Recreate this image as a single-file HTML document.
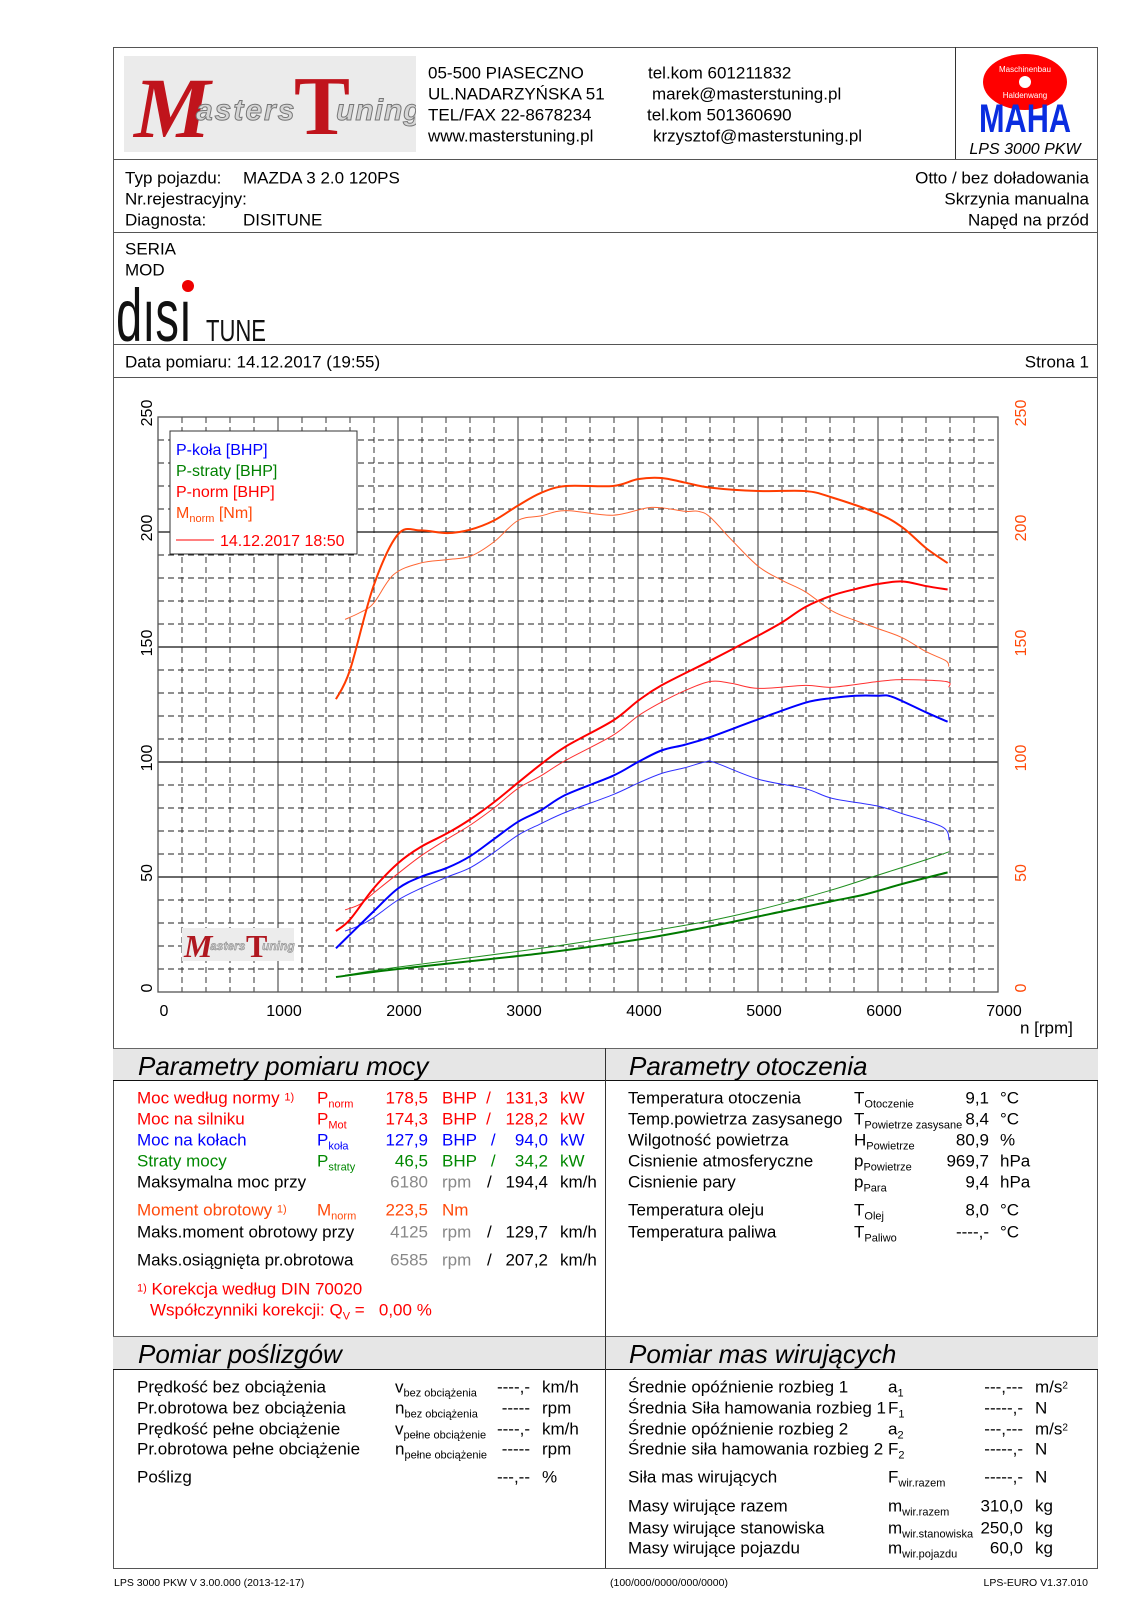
<!DOCTYPE html>
<html><head><meta charset="utf-8">
<style>
*{margin:0;padding:0;box-sizing:border-box}
body{width:1131px;height:1600px;background:#fff;position:relative;overflow:hidden;font-family:"Liberation Sans",Arial,sans-serif;color:#000}
.t{position:absolute;white-space:nowrap;line-height:1;transform:translateY(-50%);font-size:17px}
.r{text-align:right}
.h{position:absolute;height:1px;background:#555}
.v{position:absolute;width:1px;background:#333}
.band{position:absolute;background:#e6e6e6;border-top:1px solid #666;border-bottom:1.5px solid #111}
.bt{position:absolute;font-style:italic;font-size:26px;line-height:1;transform:translateY(-50%);white-space:nowrap}
sub{font-size:11px;vertical-align:-4px;line-height:0}
.red{color:#f00}.blue{color:#00f}.grn{color:#080}.org{color:#ff4a0a}.gr{color:#888}
</style></head><body>
<div style="position:absolute;left:113px;top:47px;width:985px;height:1522px;border:1.5px solid #555"></div>

<!-- header -->
<div style="position:absolute;left:124px;top:56px;width:292px;height:96px;background:#ebebeb;overflow:hidden">
  <span style="position:absolute;left:10px;top:2px;font:italic bold 86px 'Liberation Serif',serif;color:#c0141c">M</span>
  <span style="position:absolute;left:72px;top:38px;font:italic bold 30px 'Liberation Sans',sans-serif;color:#d6d6d6;-webkit-text-stroke:1px #777;letter-spacing:2px">asters</span>
  <span style="position:absolute;left:170px;top:2px;font:bold 84px 'Liberation Serif',serif;color:#c0141c">T</span>
  <span style="position:absolute;left:212px;top:38px;font:italic bold 30px 'Liberation Sans',sans-serif;color:#d6d6d6;-webkit-text-stroke:1px #777;letter-spacing:1px">uning</span>
</div>
<div class="t" style="left:428px;top:73px">05-500 PIASECZNO</div>
<div class="t" style="left:428px;top:94px">UL.NADARZYŃSKA 51</div>
<div class="t" style="left:428px;top:115px">TEL/FAX 22-8678234</div>
<div class="t" style="left:428px;top:136px">www.masterstuning.pl</div>
<div class="t" style="left:648px;top:73px">tel.kom 601211832</div>
<div class="t" style="left:652px;top:94px">marek@masterstuning.pl</div>
<div class="t" style="left:647px;top:115px">tel.kom 501360690</div>
<div class="t" style="left:653px;top:136px">krzysztof@masterstuning.pl</div>
<div class="v" style="left:955px;top:47px;height:112px"></div>
<svg style="position:absolute;left:960px;top:52px" width="135" height="110">
  <ellipse cx="65" cy="30" rx="42" ry="28" fill="#f00"/>
  <text x="65" y="20" font-size="8" fill="#fff" text-anchor="middle" font-family="Liberation Sans">Maschinenbau</text>
  <circle cx="65" cy="30" r="6" fill="#fff"/>
  <text x="65" y="46" font-size="8" fill="#fff" text-anchor="middle" font-family="Liberation Sans">Haldenwang</text>
  <text x="65" y="80" font-size="40" font-weight="bold" fill="#0a2de0" text-anchor="middle" font-family="Liberation Sans" textLength="92" lengthAdjust="spacingAndGlyphs">MAHA</text>
  <text x="65" y="102" font-size="16" font-style="italic" fill="#000" text-anchor="middle" font-family="Liberation Sans">LPS 3000 PKW</text>
</svg>
<div class="h" style="left:113px;top:159px;width:985px"></div>

<div class="t" style="left:125px;top:178px">Typ pojazdu:</div>
<div class="t" style="left:243px;top:178px">MAZDA 3 2.0 120PS</div>
<div class="t" style="left:125px;top:199px">Nr.rejestracyjny:</div>
<div class="t" style="left:125px;top:220px">Diagnosta:</div>
<div class="t" style="left:243px;top:220px">DISITUNE</div>
<div class="t r" style="right:42px;top:178px">Otto / bez doładowania</div>
<div class="t r" style="right:42px;top:199px">Skrzynia manualna</div>
<div class="t r" style="right:42px;top:220px">Napęd na przód</div>
<div class="h" style="left:113px;top:232px;width:985px"></div>

<div class="t" style="left:125px;top:249px">SERIA</div>
<div class="t" style="left:125px;top:270px">MOD</div>
<svg style="position:absolute;left:114px;top:278px" width="160" height="66">
  <text x="2" y="63" font-size="74" font-family="Liberation Sans" textLength="76" lengthAdjust="spacingAndGlyphs" fill="#111">dısı</text>
  <circle cx="74" cy="8" r="6" fill="#e00"/>
  <text x="92" y="63" font-size="31" font-family="Liberation Sans" textLength="60" lengthAdjust="spacingAndGlyphs" fill="#111">TUNE</text>
</svg>
<div class="h" style="left:113px;top:344px;width:985px"></div>
<div class="t" style="left:125px;top:362px">Data pomiaru: 14.12.2017 (19:55)</div>
<div class="t r" style="right:42px;top:362px">Strona 1</div>
<div class="h" style="left:113px;top:377px;width:985px"></div>

<!-- chart -->
<svg id="chart" style="position:absolute;left:0;top:0" width="1131" height="1048"></svg>

<div class="t" style="left:1020px;top:1028px">n [rpm]</div>

<!-- section 1 -->
<div class="band" style="left:113px;top:1048px;width:985px;height:33px"></div>
<div class="v" style="left:605px;top:1048px;height:520px"></div>
<div class="bt" style="left:138px;top:1066px">Parametry pomiaru mocy</div>
<div class="bt" style="left:629px;top:1066px">Parametry otoczenia</div>

<div class="t red" style="left:137px;top:1098px">Moc według normy <span style="font-size:11px;vertical-align:3px">1)</span></div>
<div class="t red" style="left:317px;top:1098px">P<sub>norm</sub></div>
<div class="t red r" style="right:703px;top:1098px">178,5</div>
<div class="t red" style="left:442px;top:1098px">BHP &nbsp;/</div>
<div class="t red r" style="right:583px;top:1098px">131,3</div>
<div class="t red" style="left:560px;top:1098px">kW</div>

<div class="t red" style="left:137px;top:1119px">Moc na silniku</div>
<div class="t red" style="left:317px;top:1119px">P<sub>Mot</sub></div>
<div class="t red r" style="right:703px;top:1119px">174,3</div>
<div class="t red" style="left:442px;top:1119px">BHP &nbsp;/</div>
<div class="t red r" style="right:583px;top:1119px">128,2</div>
<div class="t red" style="left:560px;top:1119px">kW</div>

<div class="t blue" style="left:137px;top:1140px">Moc na kołach</div>
<div class="t blue" style="left:317px;top:1140px">P<sub>koła</sub></div>
<div class="t blue r" style="right:703px;top:1140px">127,9</div>
<div class="t blue" style="left:442px;top:1140px">BHP &nbsp;&nbsp;/</div>
<div class="t blue r" style="right:583px;top:1140px">94,0</div>
<div class="t blue" style="left:560px;top:1140px">kW</div>

<div class="t grn" style="left:137px;top:1161px">Straty mocy</div>
<div class="t grn" style="left:317px;top:1161px">P<sub>straty</sub></div>
<div class="t grn r" style="right:703px;top:1161px">46,5</div>
<div class="t grn" style="left:442px;top:1161px">BHP &nbsp;&nbsp;/</div>
<div class="t grn r" style="right:583px;top:1161px">34,2</div>
<div class="t grn" style="left:560px;top:1161px">kW</div>

<div class="t" style="left:137px;top:1182px">Maksymalna moc przy</div>
<div class="t gr r" style="right:703px;top:1182px">6180</div>
<div class="t gr" style="left:442px;top:1182px">rpm</div>
<div class="t" style="left:487px;top:1182px">/</div>
<div class="t r" style="right:583px;top:1182px">194,4</div>
<div class="t" style="left:560px;top:1182px">km/h</div>

<div class="t org" style="left:137px;top:1210px">Moment obrotowy <span style="font-size:11px;vertical-align:3px">1)</span></div>
<div class="t org" style="left:317px;top:1210px">M<sub>norm</sub></div>
<div class="t org r" style="right:703px;top:1210px">223,5</div>
<div class="t org" style="left:442px;top:1210px">Nm</div>

<div class="t" style="left:137px;top:1232px">Maks.moment obrotowy przy</div>
<div class="t gr r" style="right:703px;top:1232px">4125</div>
<div class="t gr" style="left:442px;top:1232px">rpm</div>
<div class="t" style="left:487px;top:1232px">/</div>
<div class="t r" style="right:583px;top:1232px">129,7</div>
<div class="t" style="left:560px;top:1232px">km/h</div>

<div class="t" style="left:137px;top:1260px">Maks.osiągnięta pr.obrotowa</div>
<div class="t gr r" style="right:703px;top:1260px">6585</div>
<div class="t gr" style="left:442px;top:1260px">rpm</div>
<div class="t" style="left:487px;top:1260px">/</div>
<div class="t r" style="right:583px;top:1260px">207,2</div>
<div class="t" style="left:560px;top:1260px">km/h</div>

<div class="t red" style="left:137px;top:1289px"><span style="font-size:11px;vertical-align:3px">1)</span> Korekcja według DIN 70020</div>
<div class="t red" style="left:150px;top:1310px">Współczynniki korekcji: Q<sub>V</sub> = &nbsp;&nbsp;0,00 %</div>

<!-- ambient -->
<div class="t" style="left:628px;top:1098px">Temperatura otoczenia</div>
<div class="t" style="left:854px;top:1098px">T<sub>Otoczenie</sub></div>
<div class="t r" style="right:142px;top:1098px">9,1</div>
<div class="t" style="left:1000px;top:1098px">°C</div>
<div class="t" style="left:628px;top:1119px">Temp.powietrza zasysanego</div>
<div class="t" style="left:854px;top:1119px">T<sub>Powietrze zasysane</sub></div>
<div class="t r" style="right:142px;top:1119px">8,4</div>
<div class="t" style="left:1000px;top:1119px">°C</div>
<div class="t" style="left:628px;top:1140px">Wilgotność powietrza</div>
<div class="t" style="left:854px;top:1140px">H<sub>Powietrze</sub></div>
<div class="t r" style="right:142px;top:1140px">80,9</div>
<div class="t" style="left:1000px;top:1140px">%</div>
<div class="t" style="left:628px;top:1161px">Cisnienie atmosferyczne</div>
<div class="t" style="left:854px;top:1161px">p<sub>Powietrze</sub></div>
<div class="t r" style="right:142px;top:1161px">969,7</div>
<div class="t" style="left:1000px;top:1161px">hPa</div>
<div class="t" style="left:628px;top:1182px">Cisnienie pary</div>
<div class="t" style="left:854px;top:1182px">p<sub>Para</sub></div>
<div class="t r" style="right:142px;top:1182px">9,4</div>
<div class="t" style="left:1000px;top:1182px">hPa</div>
<div class="t" style="left:628px;top:1210px">Temperatura oleju</div>
<div class="t" style="left:854px;top:1210px">T<sub>Olej</sub></div>
<div class="t r" style="right:142px;top:1210px">8,0</div>
<div class="t" style="left:1000px;top:1210px">°C</div>
<div class="t" style="left:628px;top:1232px">Temperatura paliwa</div>
<div class="t" style="left:854px;top:1232px">T<sub>Paliwo</sub></div>
<div class="t r" style="right:142px;top:1232px">----,-</div>
<div class="t" style="left:1000px;top:1232px">°C</div>

<!-- section 2 -->
<div class="band" style="left:113px;top:1336px;width:985px;height:34px"></div>
<div class="v" style="left:605px;top:1336px;height:232px"></div>
<div class="bt" style="left:138px;top:1354px">Pomiar poślizgów</div>
<div class="bt" style="left:629px;top:1354px">Pomiar mas wirujących</div>

<div class="t" style="left:137px;top:1387px">Prędkość bez obciążenia</div>
<div class="t" style="left:395px;top:1387px">v<sub>bez obciążenia</sub></div>
<div class="t r" style="right:601px;top:1387px">----,-</div>
<div class="t" style="left:542px;top:1387px">km/h</div>
<div class="t" style="left:137px;top:1408px">Pr.obrotowa bez obciążenia</div>
<div class="t" style="left:395px;top:1408px">n<sub>bez obciążenia</sub></div>
<div class="t r" style="right:601px;top:1408px">-----</div>
<div class="t" style="left:542px;top:1408px">rpm</div>
<div class="t" style="left:137px;top:1429px">Prędkość pełne obciążenie</div>
<div class="t" style="left:395px;top:1429px">v<sub>pełne obciążenie</sub></div>
<div class="t r" style="right:601px;top:1429px">----,-</div>
<div class="t" style="left:542px;top:1429px">km/h</div>
<div class="t" style="left:137px;top:1449px">Pr.obrotowa pełne obciążenie</div>
<div class="t" style="left:395px;top:1449px">n<sub>pełne obciążenie</sub></div>
<div class="t r" style="right:601px;top:1449px">-----</div>
<div class="t" style="left:542px;top:1449px">rpm</div>
<div class="t" style="left:137px;top:1477px">Poślizg</div>
<div class="t r" style="right:601px;top:1477px">---,--</div>
<div class="t" style="left:542px;top:1477px">%</div>

<div class="t" style="left:628px;top:1387px">Średnie opóźnienie rozbieg 1</div>
<div class="t" style="left:888px;top:1387px">a<sub>1</sub></div>
<div class="t r" style="right:108px;top:1387px">---,---</div>
<div class="t" style="left:1035px;top:1387px">m/s<span style="font-size:10px;vertical-align:4px">2</span></div>
<div class="t" style="left:628px;top:1408px">Średnia Siła hamowania rozbieg 1</div>
<div class="t" style="left:888px;top:1408px">F<sub>1</sub></div>
<div class="t r" style="right:108px;top:1408px">-----,-</div>
<div class="t" style="left:1035px;top:1408px">N</div>
<div class="t" style="left:628px;top:1429px">Średnie opóźnienie rozbieg 2</div>
<div class="t" style="left:888px;top:1429px">a<sub>2</sub></div>
<div class="t r" style="right:108px;top:1429px">---,---</div>
<div class="t" style="left:1035px;top:1429px">m/s<span style="font-size:10px;vertical-align:4px">2</span></div>
<div class="t" style="left:628px;top:1449px">Średnie siła hamowania rozbieg 2</div>
<div class="t" style="left:888px;top:1449px">F<sub>2</sub></div>
<div class="t r" style="right:108px;top:1449px">-----,-</div>
<div class="t" style="left:1035px;top:1449px">N</div>
<div class="t" style="left:628px;top:1477px">Siła mas wirujących</div>
<div class="t" style="left:888px;top:1477px">F<sub>wir.razem</sub></div>
<div class="t r" style="right:108px;top:1477px">-----,-</div>
<div class="t" style="left:1035px;top:1477px">N</div>
<div class="t" style="left:628px;top:1506px">Masy wirujące razem</div>
<div class="t" style="left:888px;top:1506px">m<sub>wir.razem</sub></div>
<div class="t r" style="right:108px;top:1506px">310,0</div>
<div class="t" style="left:1035px;top:1506px">kg</div>
<div class="t" style="left:628px;top:1528px">Masy wirujące stanowiska</div>
<div class="t" style="left:888px;top:1528px">m<sub>wir.stanowiska</sub></div>
<div class="t r" style="right:108px;top:1528px">250,0</div>
<div class="t" style="left:1035px;top:1528px">kg</div>
<div class="t" style="left:628px;top:1548px">Masy wirujące pojazdu</div>
<div class="t" style="left:888px;top:1548px">m<sub>wir.pojazdu</sub></div>
<div class="t r" style="right:108px;top:1548px">60,0</div>
<div class="t" style="left:1035px;top:1548px">kg</div>

<div class="t" style="left:114px;top:1583px;font-size:10.5px">LPS 3000 PKW V 3.00.000 (2013-12-17)</div>
<div class="t" style="left:610px;top:1583px;font-size:10.5px">(100/000/0000/000/0000)</div>
<div class="t r" style="right:43px;top:1583px;font-size:10.5px">LPS-EURO V1.37.010</div>

<script>
const NS='http://www.w3.org/2000/svg';
const xTicks=[0,1000,2000,3000,4000,5000,6000,7000];
const yTicks=[0,50,100,150,200,250];
const mThickRpm=[1483,1600,1796,2000,2187,2410,2600,2800,3000,3191,3400,3791,4000,4195,4390,4600,5004,5395,5618,6000,6204,6400,6580];
const mThickVal=[127.3,140,176.5,199,200.7,199.5,201,205,211.5,217,220,220,223,223.5,221.5,219.3,217.8,217.8,215,208,202,193,186.5];
const mThinRpm=[1559,1684,1796,1964,2187,2410,2606,2800,3000,3191,3400,3791,4112,4390,4502,4600,4781,5004,5200,5395,5618,5813,6000,6204,6400,6566,6590];
const mThinVal=[162,165,169,181.5,186.5,188,189.5,195.7,205,207,209.3,207.3,210.7,209,209,206.5,196.5,185,179,174,165.7,161.5,158,154,148,144,141.5];
const pnThickRpm=[1483,1600,1796,2000,2187,2410,2600,2800,3000,3191,3400,3791,4000,4195,4600,5004,5200,5395,5618,5813,6000,6204,6400,6580];
const pnThickVal=[26.5,31.5,45,56,63,69,75,82.5,91,99,106.8,118,126.6,133.3,144,155,160.7,167.4,172.4,175.2,177.4,178.5,176.5,175];
const pnThinRpm=[1559,1684,1796,2000,2187,2410,2600,2800,3000,3191,3400,3791,4000,4195,4390,4600,4781,5004,5395,5618,6000,6204,6566,6590];
const pnThinVal=[35.7,38.2,43,51.5,59,66.5,72.5,80,88.5,94,100.8,111.6,120,126,131,135,134.2,132,133.3,132.5,135,135.8,135,132.5];
const pkThickRpm=[1483,1600,1796,2000,2187,2410,2600,2800,3000,3191,3400,3791,4000,4195,4390,4600,5004,5395,5618,5813,6000,6120,6400,6580];
const pkThickVal=[19,25,35,45,50,54,59,66.5,74,79,85.8,94,100,105,107.5,110.8,118.6,125.8,127.8,128.8,128.8,128.3,121.6,117.5];
const pkThinRpm=[1559,1684,1796,2000,2187,2410,2600,2800,3000,3191,3400,3791,4000,4195,4390,4558,4642,5004,5395,5618,6000,6204,6538,6594];
const pkThinVal=[26.5,29,32.3,40,45,50,54,60.7,68.2,73.2,78.2,85.8,90.8,95,97.5,100,99.7,92.5,88.4,84.2,80.8,77.5,71.7,66];
const psThickRpm=[1483,2000,3191,4000,4600,5200,5618,5897,6204,6580];
const psThickVal=[6.5,10,16.8,22.8,28.5,35,39.5,42.5,47,52];
const psThinRpm=[1559,2000,3191,4000,4600,5004,5590,6000,6400,6594];
const psThinVal=[7.3,10.8,19,25.6,31,35.7,44,50.8,57.5,61];

const L=158,R=998,T=417,B=992,XMAX=7000,YMAX=250;
const X=r=>L+(R-L)*r/XMAX;
const Y=v=>B-(B-T)*v/YMAX;
const svg=document.getElementById('chart');
function mk(tag,attrs,parent){const e=document.createElementNS(NS,tag);for(const k in attrs)e.setAttribute(k,attrs[k]);(parent||svg).appendChild(e);return e;}

const grid=mk('g',{});


for(let r=200;r<XMAX;r+=200){
  const solid=r%1000===0;
  mk('line',{x1:X(r),x2:X(r),y1:T,y2:B,stroke:solid?'#555':'#222','stroke-width':solid?1.2:0.9,'stroke-dasharray':solid?'':'6 4'},grid);
}
for(let v=10;v<YMAX;v+=10){
  const solid=v%50===0;
  mk('line',{x1:L,x2:R,y1:Y(v),y2:Y(v),stroke:solid?'#111':'#222','stroke-width':solid?1.2:0.9,'stroke-dasharray':solid?'':'6 4'},grid);
}
mk('rect',{x:L,y:T,width:R-L,height:B-T,fill:'none',stroke:'#555','stroke-width':1.3},grid);

xTicks.forEach(t=>{
  const e=mk('text',{x:X(t)+6,y:1016,'font-size':16,'text-anchor':'middle','font-family':'Liberation Sans'});
  e.textContent=t;
  
  
});
yTicks.forEach(t=>{
  const a=mk('text',{x:0,y:0,'font-size':16,'text-anchor':'middle','font-family':'Liberation Sans',transform:`translate(152,${Y(t)-4}) rotate(-90)`});
  a.textContent=t;
  
  
  const b=mk('text',{x:0,y:0,'font-size':16,'text-anchor':'middle','font-family':'Liberation Sans',fill:'#ff4a0a',transform:`translate(1026,${Y(t)-4}) rotate(-90)`});
  b.textContent=t;
  
  
});

// watermark
const wm=mk('g',{});


mk('rect',{x:182,y:928,width:112,height:33,fill:'#ececec'},wm);
const w1=mk('text',{x:184,y:957,'font-size':32,'font-style':'italic','font-weight':'bold',fill:'#b01820','font-family':'Liberation Serif'},wm);w1.textContent='M';
const w2=mk('text',{x:210,y:950,'font-size':12,'font-style':'italic','font-weight':'bold',fill:'#ccc',stroke:'#777','stroke-width':0.4,'font-family':'Liberation Sans'},wm);w2.textContent='asters';
const w3=mk('text',{x:246,y:957,'font-size':32,'font-weight':'bold',fill:'#b01820','font-family':'Liberation Serif'},wm);w3.textContent='T';
const w4=mk('text',{x:262,y:950,'font-size':12,'font-style':'italic','font-weight':'bold',fill:'#ccc',stroke:'#777','stroke-width':0.4,'font-family':'Liberation Sans'},wm);w4.textContent='uning';

function curve(rpm,val,color,width,name){
  const p=rpm.map((r,i)=>[X(r),Y(val[i])]);
  let d=`M${p[0][0]},${p[0][1]}`;
  for(let i=0;i<p.length-1;i++){
    const p0=p[Math.max(0,i-1)],p1=p[i],p2=p[i+1],p3=p[Math.min(p.length-1,i+2)];
    const c1=[p1[0]+(p2[0]-p0[0])/6,p1[1]+(p2[1]-p0[1])/6];
    const c2=[p2[0]-(p3[0]-p1[0])/6,p2[1]-(p3[1]-p1[1])/6];
    d+=` C${c1[0]},${c1[1]} ${c2[0]},${c2[1]} ${p2[0]},${p2[1]}`;
  }
  const e=mk('path',{d,fill:'none',stroke:color,'stroke-width':width,'stroke-linejoin':'round'});
  
  
}
curve(psThinRpm,psThinVal,'#1f8f1f',1,'p-straty-run1');
curve(psThickRpm,psThickVal,'#007a00',2,'p-straty-run2');
curve(pkThinRpm,pkThinVal,'#3030ff',1,'p-kola-run1');
curve(pkThickRpm,pkThickVal,'#0000ff',2,'p-kola-run2');
curve(pnThinRpm,pnThinVal,'#ff3030',1,'p-norm-run1');
curve(pnThickRpm,pnThickVal,'#ff0000',2,'p-norm-run2');
curve(mThinRpm,mThinVal,'#ff6633',1,'m-norm-run1');
curve(mThickRpm,mThickVal,'#ff3c00',2,'m-norm-run2');

// legend
const lg=mk('g',{});


mk('rect',{x:170,y:431,width:187,height:123,fill:'#fff',stroke:'#333','stroke-width':1},lg);
const items=[['P-koła [BHP]','#0000ff',455],['P-straty [BHP]','#008000',476],['P-norm [BHP]','#ff0000',497]];
items.forEach(it=>{const e=mk('text',{x:176,y:it[2],'font-size':16,fill:it[1],'font-family':'Liberation Sans'},lg);e.textContent=it[0];});
const lm=mk('text',{x:176,y:518,'font-size':16,fill:'#ff4a0a','font-family':'Liberation Sans'},lg);


const t1=mk('tspan',{},lm);t1.textContent='M';
const t2=mk('tspan',{'font-size':11,dy:4},lm);t2.textContent='norm';
const t3=mk('tspan',{dy:-4},lm);t3.textContent=' [Nm]';
mk('line',{x1:176,x2:214,y1:540,y2:540,stroke:'#f00','stroke-width':1},lg);
const ld=mk('text',{x:220,y:546,'font-size':16,fill:'#f00','font-family':'Liberation Sans'},lg);
ld.textContent='14.12.2017 18:50';


</script>
</body></html>
